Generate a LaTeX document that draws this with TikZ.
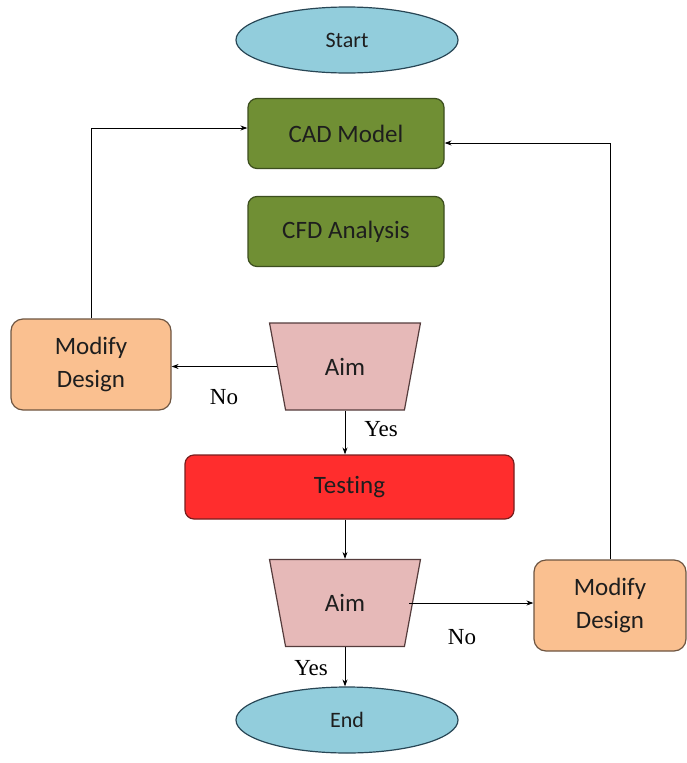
\documentclass[tikz,border=0pt]{standalone}
\usepackage{fontspec}
\setmainfont{Carlito}[Ligatures=NoCommon, Contextuals=NoAlternate]
\newfontfamily\lblfont{Liberation Serif}
\usetikzlibrary{shapes.geometric,arrows.meta,calc}
\definecolor{ellfill}{RGB}{146,205,220}
\definecolor{ellborder}{RGB}{40,70,85}
\definecolor{greenfill}{RGB}{112,143,52}
\definecolor{greenborder}{RGB}{60,78,30}
\definecolor{peachfill}{RGB}{250,192,144}
\definecolor{peachborder}{RGB}{110,85,65}
\definecolor{pinkfill}{RGB}{230,185,184}
\definecolor{pinkborder}{RGB}{85,60,60}
\definecolor{redfill}{RGB}{255,45,45}
\definecolor{redborder}{RGB}{120,30,30}
\definecolor{txt}{RGB}{30,30,30}
\begin{document}
\begin{tikzpicture}[x=1pt,y=-1pt,
  every node/.style={inner sep=0pt, text=txt},
  term/.style={ellipse, draw=ellborder, fill=ellfill, line width=1.2pt, minimum width=222pt, minimum height=66pt, font=\fontsize{22}{26}\selectfont},
  greenbox/.style={rectangle, rounded corners=9pt, draw=greenborder, fill=greenfill, line width=1.2pt, minimum width=196pt, minimum height=70pt, font=\fontsize{25}{30}\selectfont},
  peachbox/.style={rectangle, rounded corners=12pt, draw=peachborder, fill=peachfill, line width=1.2pt, minimum width=160pt, minimum height=91pt, align=center, font=\fontsize{25}{33}\selectfont},
  redbox/.style={rectangle, rounded corners=9pt, draw=redborder, fill=redfill, line width=1.2pt, minimum width=329pt, minimum height=64pt, font=\fontsize{25}{30}\selectfont},
  aimbox/.style={trapezium, trapezium stretches=true, trapezium angle=72.5, shape border rotate=180, draw=pinkborder, fill=pinkfill, line width=1.2pt, minimum width=151pt, minimum height=87pt, font=\fontsize{25}{30}\selectfont},
  conn/.style={draw=black, line width=0.9pt, -{Stealth[length=7pt,width=5pt]}},
  lbl/.style={font=\lblfont\fontsize{23}{26}\selectfont, text=black}
]
\useasboundingbox (0,0) rectangle (686,763);
\fill[white] (0,0) rectangle (686,763);
\node[term] (start) at (347,40) {Start};
\node[greenbox] (cad) at (346,133.5) {CAD Model};
\node[greenbox] (cfd) at (346,231.5) {CFD Analysis};
\node[peachbox] (mod1) at (91,364.5) {Modify\\Design};
\node[aimbox] (aim1) at (345,366.5) {Aim};
\node[redbox] (test) at (349.5,487) {Tes\kern0pt ting};
\node[aimbox] (aim2) at (345,603) {Aim};
\node[peachbox, minimum width=152pt] (mod2) at (610,605.5) {Modify\\Design};
\node[term] (end) at (347,720) {End};

\draw[conn] (aim1.west) -- (aim1.west -| mod1.east);
\draw[conn] (aim1.south) -- (aim1.south |- test.north);
\draw[conn] (aim2.north |- test.south) -- (aim2.north);
\draw[conn] ($(aim2.east)+(-4,0)$) -- (aim2.east -| mod2.west);
\draw[conn] (aim2.south) -- (aim2.south |- end.north);
\draw[conn] (mod2.north) |- ($(cad.east)+(0,9.5)$);
\draw[conn] (mod1.north) |- ($(cad.west)+(0,-5.5)$);

\node[lbl] (no1) at (224,397) {No};
\node[lbl] (yes1) at (381,429) {Yes};
\node[lbl] (no2) at (462,637) {No};
\node[lbl] (yes2) at (311,668) {Yes};
\end{tikzpicture}
\end{document}
